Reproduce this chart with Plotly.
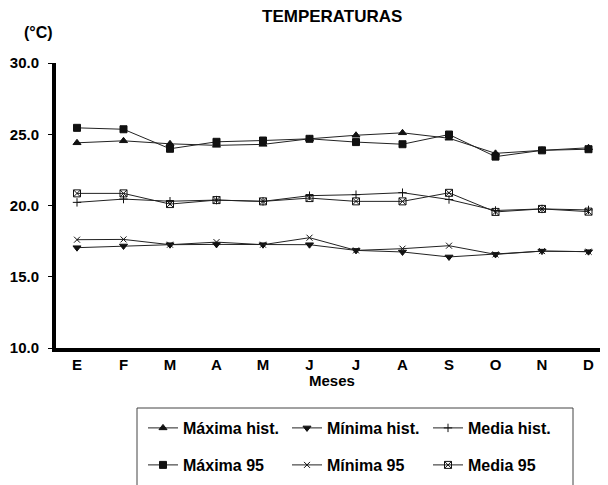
import plotly.graph_objects as go

months = ["E", "F", "M", "A", "M", "J", "J", "A", "S", "O", "N", "D"]
xpos = list(range(12))

maxima_hist = [24.4, 24.54, 24.33, 24.22, 24.29, 24.68, 24.93, 25.1, 24.72, 23.66, 23.87, 24.05]
minima_hist = [17.04, 17.16, 17.25, 17.27, 17.25, 17.25, 16.85, 16.74, 16.39, 16.57, 16.8, 16.76]
media_hist = [20.22, 20.45, 20.3, 20.38, 20.29, 20.69, 20.76, 20.9, 20.42, 19.65, 19.76, 19.69]
maxima_95 = [25.45, 25.35, 23.98, 24.47, 24.56, 24.68, 24.45, 24.3, 24.98, 23.43, 23.87, 23.95]
minima_95 = [17.6, 17.62, 17.25, 17.43, 17.25, 17.74, 16.85, 16.97, 17.18, 16.57, 16.8, 16.76]
media_95 = [20.85, 20.85, 20.1, 20.38, 20.29, 20.52, 20.29, 20.29, 20.89, 19.55, 19.76, 19.57]

FONT = "Liberation Sans, Arial, sans-serif"
OFF = 8  # page body margin
W, H = 608 - OFF, 485 - OFF
# plot area in reference pixels: x 56..608, y 63..348
PL, PR, PT, PB = 56, 608, 63, 348
ML, MR, MT = PL - OFF, 608 - PR, PT - OFF
MB = H - (PB - OFF)
PW, PH = W - ML - MR, H - MT - MB

def px_x(x):
    return (x - OFF - ML) / PW

def px_y(y):
    return (H - MB - (y - OFF)) / PH

def cx(x):
    return (x - OFF) / W

def cy(y):
    return 1 - (y - OFF) / H

# (name, values, symbol, size, legend column x px, legend row y px)
series = [
    ("Máxima hist.", maxima_hist, "triangle-up", 7, 143, 428),
    ("Mínima hist.", minima_hist, "triangle-down", 7, 287, 428),
    ("Media hist.", media_hist, "cross-thin-open", 6, 428, 428),
    ("Máxima 95", maxima_95, "square", 7, 143, 465),
    ("Mínima 95", minima_95, "x-thin-open", 6, 287, 465),
    ("Media 95", media_95, "square-x-open", 7, 428, 465),
]

fig = go.Figure()
legends = {}
for i, (name, vals, sym, sz, lx, ly) in enumerate(series):
    lg = "legend" if i == 0 else f"legend{i + 1}"
    fig.add_trace(go.Scatter(
        x=xpos, y=vals, name=name, mode="lines+markers",
        line=dict(color="#222", width=1),
        marker=dict(symbol=sym, size=sz, color="#111",
                    line=dict(color="#111", width=1)),
        legend=lg,
    ))
    legends[lg] = dict(
        xref="container", yref="container",
        x=cx(lx), y=cy(ly), xanchor="left", yanchor="middle",
        orientation="h",
        font=dict(family=FONT, size=16, color="black", weight="bold"),
        bgcolor="rgba(0,0,0,0)", borderwidth=0, itemclick=False,
    )

x0 = (77 - PL) / 46.5
fig.update_layout(
    width=W, height=H,
    margin=dict(l=ML, r=MR, t=MT, b=MB),
    paper_bgcolor="white", plot_bgcolor="white",
    showlegend=True,
    **legends,
    xaxis=dict(
        range=[-x0, (PR - PL) / 46.5 - x0], tickmode="array",
        tickvals=xpos, ticktext=months,
        showgrid=False, zeroline=False, showline=True, linecolor="black",
        linewidth=4, ticks="",
        tickfont=dict(family=FONT, size=15, color="black", weight="bold"),
    ),
    yaxis=dict(
        range=[10, 30], dtick=5, tickformat=".1f",
        showgrid=False, zeroline=False, showline=True, linecolor="black",
        linewidth=4, ticks="outside", ticklen=4, tickwidth=1, tickcolor="black",
        ticklabelstandoff=6,
        tickfont=dict(family=FONT, size=15, color="black", weight="bold"),
    ),
    shapes=[
        dict(type="rect", xref="paper", yref="paper",
             x0=px_x(137), x1=px_x(573), y0=px_y(492), y1=px_y(408),
             line=dict(color="#444", width=1), fillcolor="rgba(0,0,0,0)"),
    ],
    annotations=[
        dict(text="TEMPERATURAS", xref="paper", yref="paper",
             x=px_x(332), y=px_y(17), showarrow=False,
             xanchor="center", yanchor="middle",
             font=dict(family=FONT, size=17, color="black", weight="bold")),
        dict(text="(°C)", xref="paper", yref="paper",
             x=px_x(38), y=px_y(33), showarrow=False,
             xanchor="center", yanchor="middle",
             font=dict(family=FONT, size=16, color="black", weight="bold")),
        dict(text="Meses", xref="paper", yref="paper",
             x=px_x(332), y=px_y(380), showarrow=False,
             xanchor="center", yanchor="middle",
             font=dict(family=FONT, size=15, color="black", weight="bold")),
    ],
)

fig.write_html("out.html")
